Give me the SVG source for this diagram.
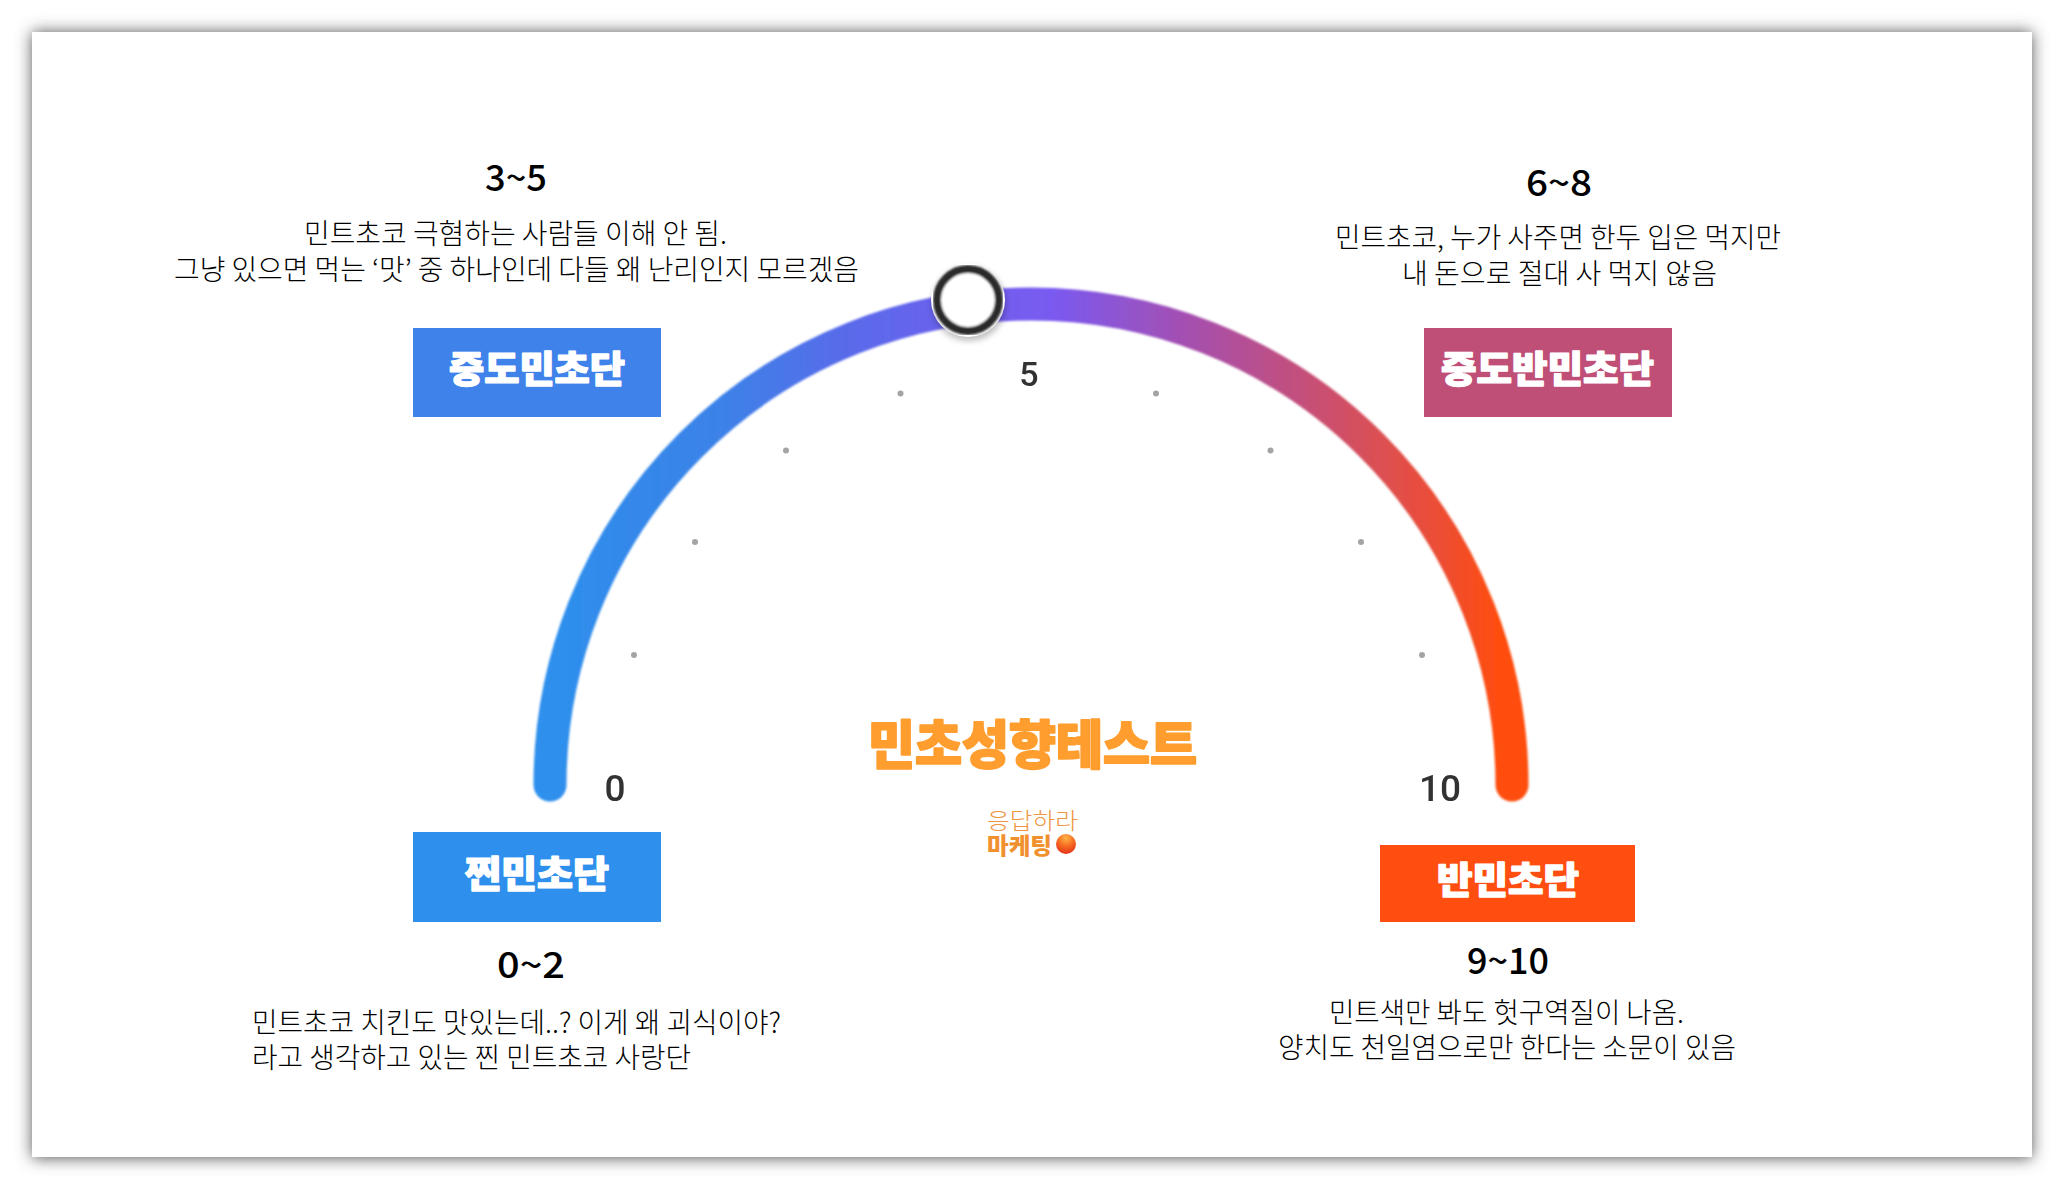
<svg xmlns="http://www.w3.org/2000/svg" width="2064" height="1189" viewBox="0 0 2064 1189">
<style>
text{font-family:"Noto Sans CJK KR","Noto Sans",sans-serif;}
.body{font-size:28px;font-weight:300;fill:#000;}
.range{font-size:36px;font-weight:500;fill:#000;}
.box{font-size:37px;font-weight:900;fill:#fff;stroke:#fff;stroke-width:1.4;stroke-linejoin:round;}
.tick{font-family:Roboto,"Liberation Sans",sans-serif;font-size:37px;font-weight:500;fill:#333;text-anchor:middle;}
.dot{fill:#a4a4a4;}
</style>
<defs>
<filter id="cardShadow" x="-5%" y="-5%" width="110%" height="110%"><feGaussianBlur stdDeviation="8"/></filter>
<filter id="soft" x="-5%" y="-5%" width="110%" height="110%"><feGaussianBlur stdDeviation="0.8"/></filter>
<filter id="softer" x="-5%" y="-5%" width="110%" height="110%"><feGaussianBlur stdDeviation="0.6"/></filter>
<filter id="knobShadow" x="-30%" y="-30%" width="160%" height="160%"><feGaussianBlur stdDeviation="3"/></filter>
<linearGradient id="arcGrad" gradientUnits="userSpaceOnUse" x1="533" y1="0" x2="1529" y2="0">
<stop offset="0.03" stop-color="#2E8FEC"/>
<stop offset="0.087" stop-color="#3389EA"/>
<stop offset="0.188" stop-color="#3C82E8"/>
<stop offset="0.32" stop-color="#5A6AEA"/>
<stop offset="0.44" stop-color="#6F60EE"/>
<stop offset="0.522" stop-color="#7A5AF0"/>
<stop offset="0.657" stop-color="#A54FB0"/>
<stop offset="0.773" stop-color="#C4507A"/>
<stop offset="0.857" stop-color="#DE4F50"/>
<stop offset="0.924" stop-color="#F04E2C"/>
<stop offset="0.97" stop-color="#FF4E0F"/>
</linearGradient>
<radialGradient id="ball" cx="50%" cy="20%" r="85%">
<stop offset="0" stop-color="#FFB347"/>
<stop offset="0.5" stop-color="#F56A20"/>
<stop offset="1" stop-color="#E02A1A"/>
</radialGradient>
</defs>
<rect width="2064" height="1189" fill="#fff"/>
<rect x="32" y="32" width="2000" height="1126" fill="#555" filter="url(#cardShadow)"/>
<rect id="card" x="32" y="32" width="2000" height="1125" fill="#fff"/>

<g id="connectors">
<path id="gauge-arc" d="M550 785A481 481 0 0 1 1512 785" fill="none" stroke="url(#arcGrad)" stroke-width="33" stroke-linecap="round" filter="url(#soft)"/>
</g>

<g id="scale-dots" filter="url(#softer)">
<circle class="dot" cx="634" cy="655" r="3"/>
<circle class="dot" cx="695" cy="542" r="3"/>
<circle class="dot" cx="786" cy="450.5" r="3"/>
<circle class="dot" cx="900.5" cy="393.5" r="3"/>
<circle class="dot" cx="1156" cy="393.5" r="3"/>
<circle class="dot" cx="1270.5" cy="450.5" r="3"/>
<circle class="dot" cx="1361" cy="542" r="3"/>
<circle class="dot" cx="1422" cy="655" r="3"/>
</g>

<g id="knob">
<circle cx="969" cy="304" r="37" fill="#000" opacity="0.25" filter="url(#knobShadow)"/>
<circle cx="968" cy="300" r="37" fill="#fff"/>
<circle cx="968" cy="300" r="31" fill="#fff" stroke="#2c2c2c" stroke-width="8" filter="url(#soft)"/>
</g>

<g id="scale-labels" filter="url(#softer)">
<text class="tick" x="615" y="801">0</text>
<text class="tick" x="1029" y="386" style="font-size:34px">5</text>
<text class="tick" x="1440" y="801">10</text>
</g>

<g id="node-3-5">
<text class="range" x="485" y="191" textLength="62" lengthAdjust="spacingAndGlyphs">3~5</text>
<text class="body" x="304" y="244" textLength="423" lengthAdjust="spacingAndGlyphs">민트초코 극혐하는 사람들 이해 안 됨.</text>
<text class="body" x="174" y="280" textLength="685" lengthAdjust="spacingAndGlyphs">그냥 있으면 먹는 ‘맛’ 중 하나인데 다들 왜 난리인지 모르겠음</text>
<rect x="413" y="328" width="248" height="89" fill="#3F82EA"/>
<text class="box" x="449" y="383" textLength="176" lengthAdjust="spacingAndGlyphs">중도민초단</text>
</g>

<g id="node-6-8">
<text class="range" x="1526" y="196" textLength="66" lengthAdjust="spacingAndGlyphs">6~8</text>
<text class="body" x="1335" y="248" textLength="446" lengthAdjust="spacingAndGlyphs">민트초코, 누가 사주면 한두 입은 먹지만</text>
<text class="body" x="1402" y="284" textLength="315" lengthAdjust="spacingAndGlyphs">내 돈으로 절대 사 먹지 않음</text>
<rect x="1424" y="328" width="248" height="89" fill="#C04F78"/>
<text class="box" x="1441" y="383" textLength="213" lengthAdjust="spacingAndGlyphs">중도반민초단</text>
</g>

<g id="node-0-2">
<rect x="413" y="832" width="248" height="90" fill="#2E8FEC"/>
<text class="box" x="465" y="888" textLength="144" lengthAdjust="spacingAndGlyphs">찐민초단</text>
<text class="range" x="497" y="978" textLength="68" lengthAdjust="spacingAndGlyphs">0~2</text>
<text class="body" x="252" y="1033" textLength="529" lengthAdjust="spacingAndGlyphs">민트초코 치킨도 맛있는데..? 이게 왜 괴식이야?</text>
<text class="body" x="252" y="1068" textLength="439" lengthAdjust="spacingAndGlyphs">라고 생각하고 있는 찐 민트초코 사랑단</text>
</g>

<g id="node-9-10">
<rect x="1380" y="845" width="255" height="77" fill="#FF4E0F"/>
<text class="box" x="1437" y="894" textLength="142" lengthAdjust="spacingAndGlyphs">반민초단</text>
<text class="range" x="1467" y="974" textLength="82" lengthAdjust="spacingAndGlyphs">9~10</text>
<text class="body" x="1329" y="1023" textLength="355" lengthAdjust="spacingAndGlyphs">민트색만 봐도 헛구역질이 나옴.</text>
<text class="body" x="1278" y="1058" textLength="458" lengthAdjust="spacingAndGlyphs">양치도 천일염으로만 한다는 소문이 있음</text>
</g>

<g id="title">
<text x="868" y="764" textLength="329" lengthAdjust="spacingAndGlyphs" font-size="52" font-weight="900" fill="#FF9D2E" stroke="#FF9D2E" stroke-width="2" stroke-linejoin="round">민초성향테스트</text>
</g>

<g id="logo">
<text x="987" y="829" textLength="91" lengthAdjust="spacingAndGlyphs" font-size="23" font-weight="300" fill="#EF9440">응답하라</text>
<text x="987" y="854" textLength="65" lengthAdjust="spacingAndGlyphs" font-size="23" font-weight="900" fill="#F0902E">마케팅</text>
<circle cx="1066" cy="844" r="10" fill="url(#ball)"/>
</g>
</svg>
